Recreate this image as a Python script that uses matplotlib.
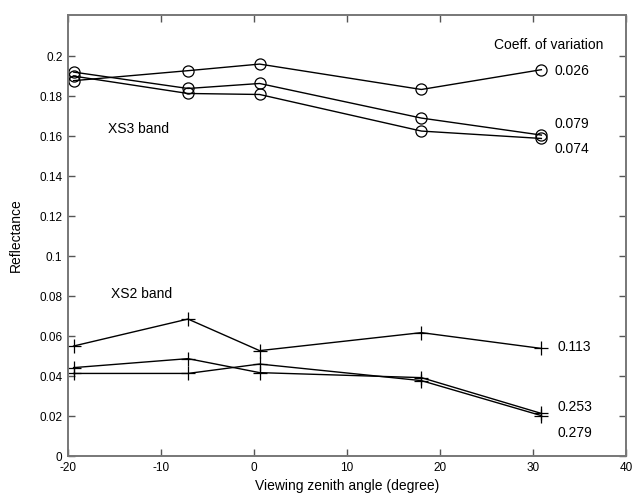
import matplotlib
matplotlib.use("Agg")
import matplotlib.pyplot as plt
from matplotlib.ticker import FuncFormatter

plt.rcParams['font.family'] = ['Liberation Sans', 'DejaVu Sans']
plt.rcParams['axes.unicode_minus'] = False

# viewing zenith angles (degree)
angles = [-19.4, -7.1, 0.6, 18.0, 30.9]

# XS3 band reflectance (circles)
xs3_a = [0.1877, 0.1927, 0.1960, 0.1833, 0.1932]
xs3_b = [0.1920, 0.1838, 0.1863, 0.1690, 0.1605]
xs3_c = [0.1900, 0.1813, 0.1808, 0.1625, 0.1588]
xs3_cv = ['0.026', '0.079', '0.074']

# XS2 band reflectance (crosses)
xs2_a = [0.0550, 0.0685, 0.0527, 0.0617, 0.0538]
xs2_b = [0.0442, 0.0487, 0.0417, 0.0392, 0.0213]
xs2_c = [0.0413, 0.0413, 0.0460, 0.0377, 0.0202]
xs2_cv = ['0.113', '0.253', '0.279']

fig = plt.figure(figsize=(6.32, 5.03), dpi=100)
ax = fig.add_axes([0.1076, 0.0934, 0.8829, 0.8766])

for ys in (xs3_a, xs3_b, xs3_c):
    ax.plot(angles, ys, color='black', lw=1.0, marker='o', ms=8,
            mfc='none', mec='black', mew=0.9)
for ys in (xs2_a, xs2_b, xs2_c):
    ax.plot(angles, ys, color='black', lw=1.0, marker='+', ms=10,
            mec='black', mew=0.9)

# labels
ax.text(25.85, 0.2055, 'Coeff. of variation', fontsize=10, va='center')
for txt, y in zip(xs3_cv, [0.1925, 0.166, 0.1535]):
    ax.text(32.3, y, txt, fontsize=10, va='center')
for txt, y in zip(xs2_cv, [0.0545, 0.0245, 0.0115]):
    ax.text(32.6, y, txt, fontsize=10, va='center')
ax.text(-15.7, 0.1635, 'XS3 band', fontsize=10, va='center')
ax.text(-15.4, 0.081, 'XS2 band', fontsize=10, va='center')

ax.set_xlim(-20, 40)
ax.set_ylim(0, 0.2205)
ax.set_xticks([-20, -10, 0, 10, 20, 30, 40])
ax.set_yticks([0, 0.02, 0.04, 0.06, 0.08, 0.1, 0.12, 0.14, 0.16, 0.18, 0.2])
ax.yaxis.set_major_formatter(FuncFormatter(lambda v, p: '%g' % round(v, 2)))

ax.tick_params(direction='in', top=True, right=True, length=5, width=1,
               color='#555555', labelsize=8.5, pad=4)
for s in ax.spines.values():
    s.set_color('#777777')
    s.set_linewidth(1.4)

ax.set_xlabel('Viewing zenith angle (degree)', fontsize=10, labelpad=4)
ax.set_ylabel('Reflectance', fontsize=10, labelpad=12)

fig.savefig('out.png', dpi=100)
